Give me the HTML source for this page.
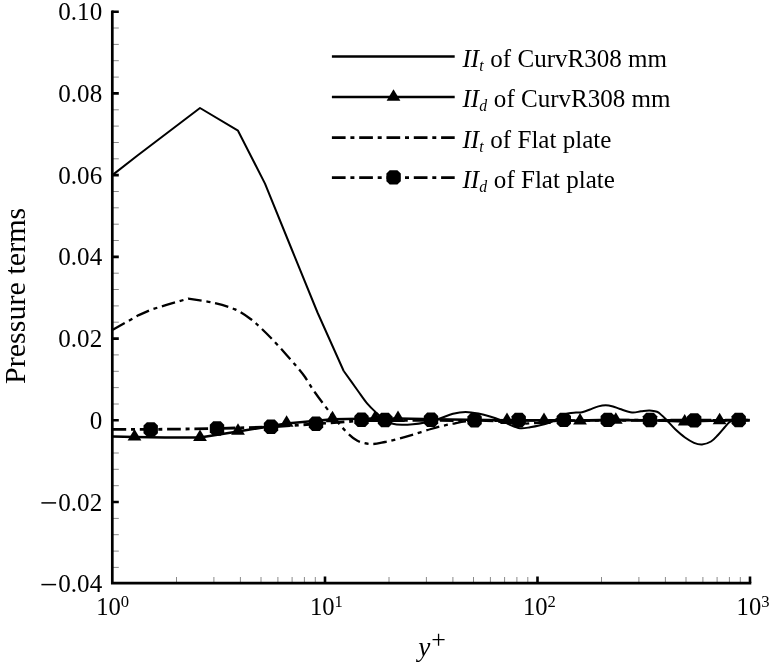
<!DOCTYPE html>
<html><head><meta charset="utf-8"><title>Pressure terms</title>
<style>
html,body{margin:0;padding:0;background:#fff;}
body{width:769px;height:665px;overflow:hidden;position:relative;font-family:"Liberation Serif",serif;}
</style></head><body>
<svg width="769" height="665" viewBox="0 0 769 665" style="position:absolute;left:0;top:0;will-change:transform;transform:translateZ(0)">
<rect width="769" height="665" fill="#fff"/>
<path d="M113 28.0 H118.8 M113 44.4 H118.8 M113 60.7 H118.8 M113 77.1 H118.8 M113 109.8 H118.8 M113 126.1 H118.8 M113 142.5 H118.8 M113 158.8 H118.8 M113 191.5 H118.8 M113 207.8 H118.8 M113 224.2 H118.8 M113 240.5 H118.8 M113 273.2 H118.8 M113 289.5 H118.8 M113 305.9 H118.8 M113 322.2 H118.8 M113 354.9 H118.8 M113 371.3 H118.8 M113 387.6 H118.8 M113 404.0 H118.8 M113 436.6 H118.8 M113 453.0 H118.8 M113 469.3 H118.8 M113 485.7 H118.8 M113 518.4 H118.8 M113 534.7 H118.8 M113 551.1 H118.8 M113 567.4 H118.8 M176.5 577 V582 M213.9 577 V582 M240.4 577 V582 M261.0 577 V582 M277.9 577 V582 M292.1 577 V582 M304.4 577 V582 M315.3 577 V582 M389.0 577 V582 M426.4 577 V582 M452.9 577 V582 M473.5 577 V582 M490.4 577 V582 M504.6 577 V582 M516.9 577 V582 M527.8 577 V582 M601.5 577 V582 M638.9 577 V582 M665.4 577 V582 M686.0 577 V582 M702.9 577 V582 M717.1 577 V582 M729.4 577 V582 M740.3 577 V582" stroke="#8a8a8a" stroke-width="1" fill="none"/>
<path d="M112 11.7 H118.8 M112 93.4 H118.8 M112 175.1 H118.8 M112 256.9 H118.8 M112 338.6 H118.8 M112 420.3 H118.8 M112 502.0 H118.8 M325.0 576.5 V583 M537.5 576.5 V583 M750.0 576.5 V583" stroke="#000" stroke-width="2.6" fill="none"/>
<path d="M112.3 10.4 V583.1 H751.3" stroke="#000" stroke-width="2.7" fill="none" stroke-linejoin="miter"/>
<g fill="none" stroke="#000" stroke-linejoin="round">
<path d="M113.0 174.6 L137.5 155.5 L200.0 108.0 L238.0 130.7 L265.0 183.6 L292.0 250.0 L317.5 312.5 L343.7 371.0" stroke-width="2"/>
<path d="M343.7 371.0 C346.0 374.2 353.4 384.6 357.3 390.0 C361.2 395.4 364.1 399.9 367.3 403.7 C370.5 407.5 373.6 410.2 376.4 412.8 C379.2 415.4 381.3 417.7 384.0 419.5 C386.7 421.3 389.8 422.8 392.8 423.7 C395.8 424.6 398.6 424.7 402.0 424.8 C405.4 424.9 409.4 424.6 413.0 424.3 C416.6 424.0 419.6 423.7 423.8 422.8 C428.0 421.9 433.5 420.5 438.4 419.0 C443.3 417.5 448.4 414.9 453.0 413.7 C457.6 412.5 461.5 411.9 465.7 411.9 C469.9 411.9 474.3 412.7 478.4 413.5 C482.4 414.3 486.4 415.4 490.0 416.5 C493.6 417.6 496.7 418.6 500.0 420.0 C503.3 421.4 506.7 423.4 510.0 424.8 C513.3 426.2 516.7 427.8 520.0 428.2 C523.3 428.6 526.7 427.8 530.0 427.3 C533.3 426.8 536.8 426.1 540.0 425.3 C543.2 424.6 546.2 423.9 549.0 422.8 C551.8 421.8 554.7 420.2 557.0 419.0 C559.3 417.8 561.0 416.4 563.0 415.5 C565.0 414.6 566.8 413.8 569.0 413.3 C571.2 412.8 573.8 412.8 576.0 412.6 C578.2 412.4 579.7 412.7 582.0 412.2 C584.3 411.7 587.3 410.5 590.0 409.5 C592.7 408.5 595.8 407.1 598.4 406.4 C601.0 405.7 603.3 405.3 605.7 405.3 C608.1 405.3 610.6 405.9 613.0 406.5 C615.4 407.1 616.8 408.0 620.0 409.0 C623.2 410.0 628.5 412.1 632.0 412.5 C635.5 412.9 638.1 411.6 641.0 411.3 C643.9 411.0 646.8 410.4 649.5 410.5 C652.2 410.6 654.9 411.0 657.0 411.8 C659.1 412.6 660.3 414.1 662.0 415.5 C663.7 416.9 664.8 418.2 667.0 420.5 C669.2 422.8 672.0 426.2 675.0 429.0 C678.0 431.8 681.8 435.2 685.0 437.5 C688.2 439.8 691.2 441.6 694.0 442.8 C696.8 444.0 699.2 444.7 702.0 444.5 C704.8 444.3 708.3 443.1 711.0 441.5 C713.7 439.9 715.8 437.3 718.0 435.0 C720.2 432.7 722.7 429.6 724.5 427.5 C726.3 425.4 727.6 423.7 729.0 422.5 C730.4 421.3 731.3 420.7 733.0 420.3 C734.7 419.9 738.0 420.1 739.0 420.0" stroke-width="2"/>
<path d="M112.8 329.8 L138.8 315.1 L151.8 309.4 L167.4 304.7 L188.2 298.6 C192.5 299.3 206.4 301.1 214.2 302.9 C222.0 304.7 228.9 306.7 235.0 309.4 C241.1 312.1 246.3 315.9 250.6 319.0 C254.9 322.1 257.1 324.4 261.0 328.1 C264.9 331.8 269.7 336.6 274.0 341.1 C278.3 345.7 283.1 351.0 287.0 355.4 C290.9 359.8 294.5 363.9 297.5 367.5 C300.5 371.1 302.1 372.8 305.0 377.0 C307.9 381.2 310.8 386.6 315.0 392.5 C319.2 398.4 324.9 406.1 330.0 412.5 C335.1 418.9 341.0 426.3 345.5 431.0 C350.0 435.7 352.8 438.3 357.0 440.5 C361.2 442.7 366.3 443.8 371.0 444.0 C375.7 444.2 380.2 442.9 385.0 442.0 C389.8 441.1 395.0 439.6 400.0 438.3 C405.0 437.0 409.8 435.6 415.0 434.0 C420.2 432.4 426.5 430.3 431.0 429.0 C435.5 427.7 438.3 426.9 442.0 426.0 C445.7 425.1 449.1 424.5 453.0 423.7 C456.9 422.9 461.2 421.8 465.7 421.3 C470.2 420.8 474.3 420.4 480.0 420.5 C485.7 420.6 494.0 421.2 500.0 421.8 C506.0 422.4 510.2 423.6 516.0 423.8 C521.8 424.0 528.5 423.5 535.0 423.0 C541.5 422.5 544.2 421.5 555.0 421.0 C565.8 420.5 584.2 420.2 600.0 420.0 C615.8 419.8 633.3 420.0 650.0 420.0 C666.7 420.0 683.4 420.0 700.0 420.0 C716.6 420.0 741.2 420.0 749.5 420.0" stroke-width="2.3" stroke-dasharray="13.7 4.8 4 4.8"/>
<path d="M113.0 436.6 L134.5 436.9 L165.0 437.5 L200.0 437.5 L238.0 431.5 L286.6 423.5 L332.5 419.2 L375.0 418.6 L398.0 418.6 L450.0 419.6 L507.0 420.2 L544.0 420.2 L580.0 420.7 L615.8 420.0 L650.0 420.3 L684.7 421.5 L719.6 420.4 L749.7 420.0" stroke-width="2.5"/>
<path d="M112.5 429.3 L150.7 429.4 L217.0 428.6 L271.0 426.9 L316.0 423.9 L361.5 420.6 L385.0 420.5 L431.0 420.4 L474.8 420.6 L518.7 420.4 L563.7 420.3 L607.5 420.3 L650.0 420.4 L694.0 420.6 L738.7 420.3 L749.7 420.3" stroke-width="2.8" stroke-dasharray="13.7 4.8 4 4.8"/>
<path d="M331.9 56.5 H454.7 M331.9 97.1 H454.7" stroke-width="2.5"/>
<path d="M331.9 137.6 H454.7 M331.9 177.6 H454.7" stroke-width="2.6" stroke-dasharray="13.7 4.8 4 4.8"/>
</g>
<g fill="#000">
<path d="M134.5 429.0 L141.4 440.5 L127.6 440.5 Z"/>
<path d="M200.0 429.5 L206.9 441.0 L193.1 441.0 Z"/>
<path d="M238.0 423.2 L244.9 434.7 L231.1 434.7 Z"/>
<path d="M286.6 415.2 L293.5 426.7 L279.7 426.7 Z"/>
<path d="M332.5 410.8 L339.4 422.3 L325.6 422.3 Z"/>
<path d="M375.0 410.5 L381.9 422.0 L368.1 422.0 Z"/>
<path d="M398.0 410.5 L404.9 422.0 L391.1 422.0 Z"/>
<path d="M507.0 412.5 L513.9 424.0 L500.1 424.0 Z"/>
<path d="M544.0 412.5 L550.9 424.0 L537.1 424.0 Z"/>
<path d="M580.0 413.0 L586.9 424.5 L573.1 424.5 Z"/>
<path d="M615.8 412.2 L622.7 423.7 L608.9 423.7 Z"/>
<path d="M684.7 414.0 L691.6 425.5 L677.8 425.5 Z"/>
<path d="M719.6 412.7 L726.5 424.2 L712.7 424.2 Z"/>
<path d="M146.9 422.2 L154.5 422.2 L157.9 425.6 L157.9 433.2 L154.5 436.6 L146.9 436.6 L143.5 433.2 L143.5 425.6 Z"/>
<path d="M213.2 421.3 L220.8 421.3 L224.2 424.7 L224.2 432.3 L220.8 435.7 L213.2 435.7 L209.8 432.3 L209.8 424.7 Z"/>
<path d="M267.2 419.6 L274.8 419.6 L278.2 423.0 L278.2 430.6 L274.8 434.0 L267.2 434.0 L263.8 430.6 L263.8 423.0 Z"/>
<path d="M312.2 416.6 L319.8 416.6 L323.2 420.0 L323.2 427.6 L319.8 431.0 L312.2 431.0 L308.8 427.6 L308.8 420.0 Z"/>
<path d="M357.7 412.6 L365.3 412.6 L368.7 416.0 L368.7 423.6 L365.3 427.0 L357.7 427.0 L354.3 423.6 L354.3 416.0 Z"/>
<path d="M381.2 412.8 L388.8 412.8 L392.2 416.2 L392.2 423.8 L388.8 427.2 L381.2 427.2 L377.8 423.8 L377.8 416.2 Z"/>
<path d="M427.2 412.6 L434.8 412.6 L438.2 416.0 L438.2 423.6 L434.8 427.0 L427.2 427.0 L423.8 423.6 L423.8 416.0 Z"/>
<path d="M470.8 413.1 L478.4 413.1 L481.8 416.5 L481.8 424.1 L478.4 427.5 L470.8 427.5 L467.4 424.1 L467.4 416.5 Z"/>
<path d="M514.9 412.8 L522.5 412.8 L525.9 416.2 L525.9 423.8 L522.5 427.2 L514.9 427.2 L511.5 423.8 L511.5 416.2 Z"/>
<path d="M560.0 412.7 L567.6 412.7 L571.0 416.1 L571.0 423.7 L567.6 427.1 L560.0 427.1 L556.6 423.7 L556.6 416.1 Z"/>
<path d="M604.0 412.7 L611.6 412.7 L615.0 416.1 L615.0 423.7 L611.6 427.1 L604.0 427.1 L600.6 423.7 L600.6 416.1 Z"/>
<path d="M646.2 412.8 L653.8 412.8 L657.2 416.2 L657.2 423.8 L653.8 427.2 L646.2 427.2 L642.8 423.8 L642.8 416.2 Z"/>
<path d="M690.4 413.2 L698.0 413.2 L701.4 416.6 L701.4 424.2 L698.0 427.6 L690.4 427.6 L687.0 424.2 L687.0 416.6 Z"/>
<path d="M734.9 412.8 L742.5 412.8 L745.9 416.2 L745.9 423.8 L742.5 427.2 L734.9 427.2 L731.5 423.8 L731.5 416.2 Z"/>
<path d="M393.5 89.3 L400.4 100.8 L386.6 100.8 Z"/>
<path d="M389.7 170.2 L397.4 170.2 L400.8 173.6 L400.8 181.3 L397.4 184.6 L389.7 184.6 L386.4 181.3 L386.4 173.6 Z"/>
</g>
<g font-family="Liberation Serif, serif" fill="#000" font-size="24.6">
<text transform="translate(102.2 20.2) scale(1.02 1)" text-anchor="end">0.10</text>
<text transform="translate(102.2 101.9) scale(1.02 1)" text-anchor="end">0.08</text>
<text transform="translate(102.2 183.6) scale(1.02 1)" text-anchor="end">0.06</text>
<text transform="translate(102.2 265.4) scale(1.02 1)" text-anchor="end">0.04</text>
<text transform="translate(102.2 347.1) scale(1.02 1)" text-anchor="end">0.02</text>
<text transform="translate(102.2 428.8) scale(1.02 1)" text-anchor="end">0</text>
<text transform="translate(102.2 510.5) scale(1.02 1)" text-anchor="end">0.02</text>
<path d="M41.4 502.9 H56.1" stroke="#000" stroke-width="1.5" fill="none"/>
<text transform="translate(102.2 592.2) scale(1.02 1)" text-anchor="end">0.04</text>
<path d="M41.4 584.6 H56.1" stroke="#000" stroke-width="1.5" fill="none"/>
<text x="96.2" y="614.7">10<tspan font-size="16.6" dy="-8.2">0</tspan></text>
<text x="310.0" y="614.7">10<tspan font-size="16.6" dy="-8.2">1</tspan></text>
<text x="522.9" y="614.7">10<tspan font-size="16.6" dy="-8.2">2</tspan></text>
<text x="736.6" y="614.7">10<tspan font-size="16.6" dy="-8.2">3</tspan></text>
<text x="418.2" y="656.2" font-style="italic" font-size="27.2">y</text>
<text x="438.6" y="648.0" text-anchor="middle" font-size="25.9">+</text>
<text transform="translate(25.3 295.9) rotate(-90)" text-anchor="middle" font-size="30.1">Pressure terms</text>
<text x="462.5" y="66.8" font-size="25.05"><tspan font-style="italic">II</tspan><tspan font-style="italic" font-size="15.8" dy="4.1">t</tspan><tspan dy="-4.1" dx="0.5"> of CurvR308 mm</tspan></text>
<text x="462.5" y="107.3" font-size="25.05"><tspan font-style="italic">II</tspan><tspan font-style="italic" font-size="15.8" dy="4.1">d</tspan><tspan dy="-4.1" dx="0.5"> of CurvR308 mm</tspan></text>
<text x="462.5" y="147.8" font-size="25.05"><tspan font-style="italic">II</tspan><tspan font-style="italic" font-size="15.8" dy="4.1">t</tspan><tspan dy="-4.1" dx="0.5"> of Flat plate</tspan></text>
<text x="462.5" y="188.2" font-size="25.05"><tspan font-style="italic">II</tspan><tspan font-style="italic" font-size="15.8" dy="4.1">d</tspan><tspan dy="-4.1" dx="0.5"> of Flat plate</tspan></text>
</g>
</svg>
</body></html>
